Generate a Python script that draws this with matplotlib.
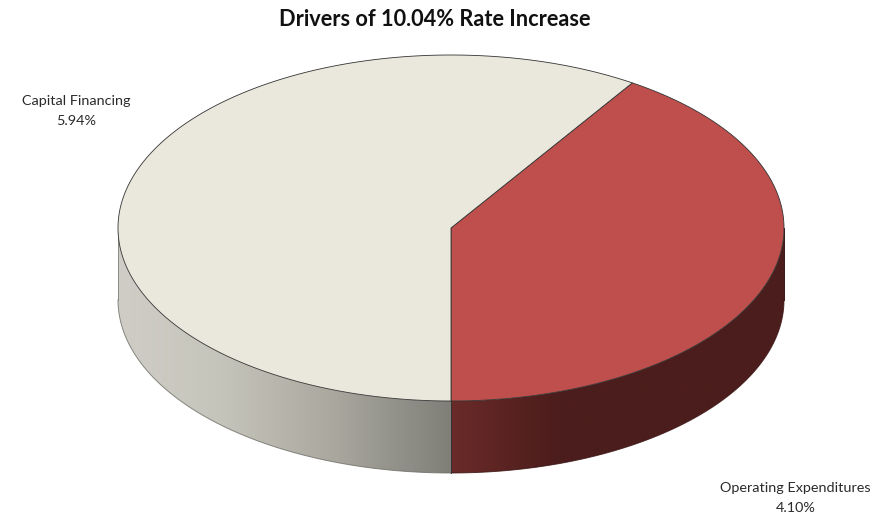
import numpy as np
import matplotlib
matplotlib.use("Agg")
import matplotlib.pyplot as plt
from matplotlib.colors import LinearSegmentedColormap
from matplotlib.patches import Polygon

title = "Drivers of 10.04% Rate Increase"
categories = ["Operating Expenditures", "Capital Financing"]
values = [4.10, 5.94]
labels = ["4.10%", "5.94%"]
top_colors = ["#BE4F4C", "#EAE8DC"]
side_stops = [[(0, "#6A2B2A"), (0.17, "#5A2321"), (0.32, "#4B1D1C"), (1, "#4B1D1C")],
              [(0, "#CFCDC6"), (0.3, "#C6C5BB"), (0.65, "#A9A79E"), (1, "#7F7F78")]]
side_edges = ["#3a1514", "#6e6e68"]

W, H = 884, 513
fig = plt.figure(figsize=(W / 100, H / 100), dpi=100)
ax = fig.add_axes([0, 0, 1, 1])

cx, cy, rx, ry, depth = 451, 228, 333, 173, 72
edge = "#333333"

def pt(a):
    return cx + rx * np.cos(a), cy - ry * np.sin(a)

fracs = np.array(values) / sum(values)
start = -np.pi / 2
bounds = start + np.concatenate([[0], np.cumsum(fracs) * 2 * np.pi])

for i in range(2):
    a0, a1 = bounds[i], bounds[i + 1]
    sa0, sa1 = (a0, 0.0) if i == 0 else (np.pi, a1)
    g = np.linspace(sa0, sa1, 300)
    x, y = pt(g)
    wall = Polygon(np.c_[np.r_[x, x[::-1]], np.r_[y, y[::-1] + depth]],
                   closed=True, transform=ax.transData, facecolor="none", edgecolor="none")
    ax.add_patch(wall)
    cmap = LinearSegmentedColormap.from_list("s", side_stops[i])
    im = ax.imshow(np.linspace(0, 1, 512).reshape(1, -1), cmap=cmap, aspect="auto",
                   extent=[x.min(), x.max(), y.max() + depth, y.min()], zorder=1,
                   interpolation="bilinear")
    im.set_clip_path(wall)
    ax.plot(x, y + depth, color=side_edges[i], lw=0.7, zorder=2, alpha=0.8)
    g = np.linspace(a0, a1, 300)
    x, y = pt(g)
    ax.fill(np.r_[cx, x], np.r_[cy, y], facecolor=top_colors[i], edgecolor=edge,
            lw=0.6, zorder=3)

for a, c in ((np.pi, "#8a8a84"), (-np.pi / 2, "#333333"), (0.0, "#3a1514")):
    x, y = pt(a)
    ax.plot([x, x], [y, y + depth], color=c, lw=0.7, zorder=2)

ax.set_xlim(0, W)
ax.set_ylim(H, 0)
ax.axis("off")

font = "Lato"
ax.text(434.5, 19, title, ha="center", va="center", fontsize=15.65,
        fontweight="bold", family=font, color="#111111")
for (tx, i) in ((76.5, 1), (795.5, 0)):
    ty = 101 if i == 1 else 488
    ax.text(tx, ty, categories[i], ha="center", va="center", fontsize=10.35,
            family=font, color="#2a2a2a")
    ax.text(tx, ty + 20, labels[i], ha="center", va="center", fontsize=10.35,
            family=font, color="#2a2a2a")

fig.savefig("out.png", dpi=100, facecolor="white")
